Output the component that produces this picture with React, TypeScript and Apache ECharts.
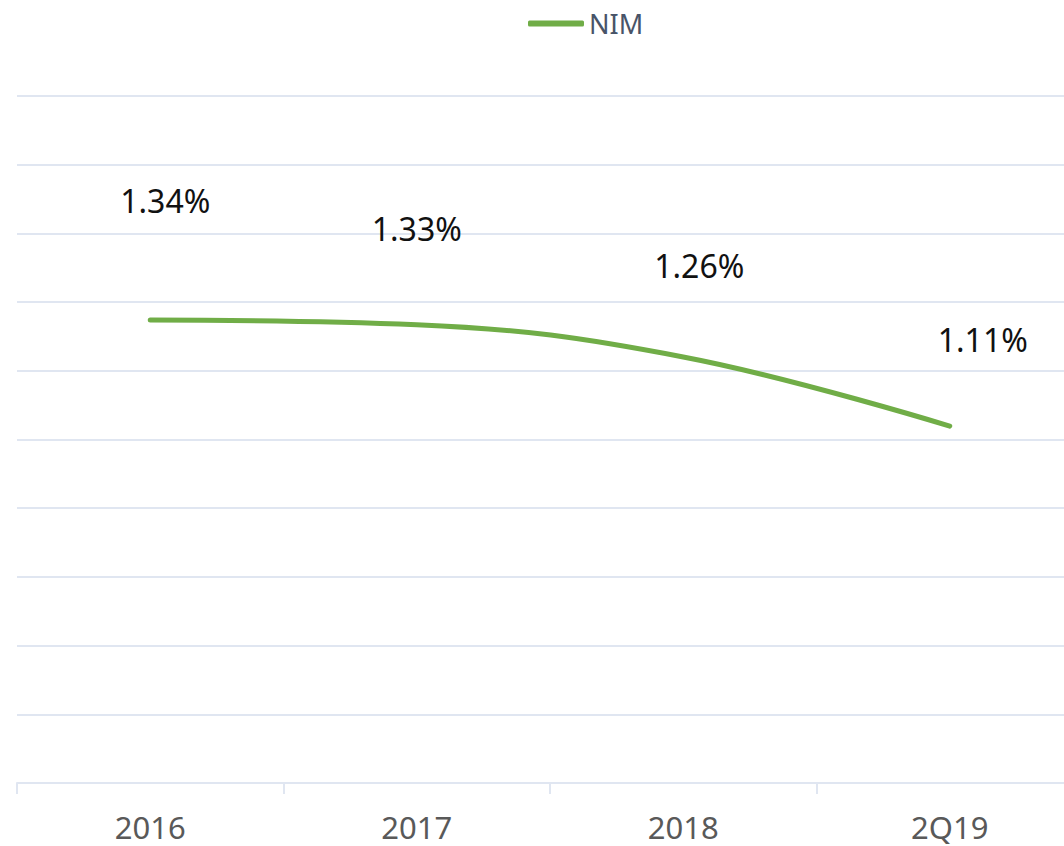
import React, { useEffect, useRef } from "react";
import * as echarts from "echarts";

const categories = ["2016", "2017", "2018", "2Q19"];
const nimValues = [1.34, 1.33, 1.26, 1.11];
const seriesName = "NIM";

export default function App() {
  const ref = useRef<HTMLDivElement>(null);
  useEffect(() => {
    if (!ref.current) return;
    const chart = echarts.init(ref.current, undefined, { renderer: "svg" });
    const labelOffsets = [
      [15, -120],
      [0, -96],
      [16, -91],
      [33, -87],
    ];
    chart.setOption({
      animation: false,
      textStyle: { fontFamily: "Noto Sans" },
      legend: {
        data: [
          { name: seriesName, icon: "roundRect", itemStyle: { color: "#70ad47", opacity: 1 } },
        ],
        left: 523,
        top: 5,
        itemWidth: 56,
        itemHeight: 6,
        itemGap: 5,
        textStyle: { fontSize: 27, color: "#485468", fontFamily: "Noto Sans" },
      },
      grid: { left: 17, right: 17, top: 96, bottom: 63, containLabel: false },
      xAxis: {
        type: "category",
        data: categories,
        boundaryGap: true,
        axisLine: { lineStyle: { color: "#e0e6f1", width: 2 } },
        axisTick: { show: true, length: 11, lineStyle: { color: "#e0e6f1", width: 2 } },
        axisLabel: { fontSize: 31, lineHeight: 31, color: "#595959", margin: 28, fontFamily: "Noto Sans" },
      },
      yAxis: [
        {
          type: "value",
          min: 0,
          max: 10,
          interval: 1,
          axisLabel: { show: false },
          axisLine: { show: false },
          axisTick: { show: false },
          splitLine: { show: true, lineStyle: { color: "#e0e6f1", width: 2 } },
        },
        {
          type: "value",
          min: 0.336,
          max: 1.826,
          show: false,
          splitLine: { show: false },
        },
      ],
      series: [
        {
          name: seriesName,
          type: "line",
          yAxisIndex: 1,
          smooth: 0.4,
          symbol: "circle",
          symbolSize: 1,
          showSymbol: true,
          lineStyle: { color: "#70ad47", width: 5, cap: "round" },
          itemStyle: { color: "rgba(112,173,71,0)" },
          emphasis: { disabled: true },
          data: nimValues.map((v, i) => ({
            value: v,
            label: { offset: labelOffsets[i] },
          })),
          label: {
            show: true,
            position: "inside",
            fontSize: 32,
            color: "#111111",
            fontFamily: "Noto Sans",
            formatter: (p: any) => `${Number(p.value).toFixed(2)}%`,
          },
        },
      ],
    });
    return () => chart.dispose();
  }, []);
  return (
    <div
      ref={ref}
      style={{ position: "fixed", left: 0, top: 0, width: 1100, height: 846, background: "#ffffff" }}
    />
  );
}
